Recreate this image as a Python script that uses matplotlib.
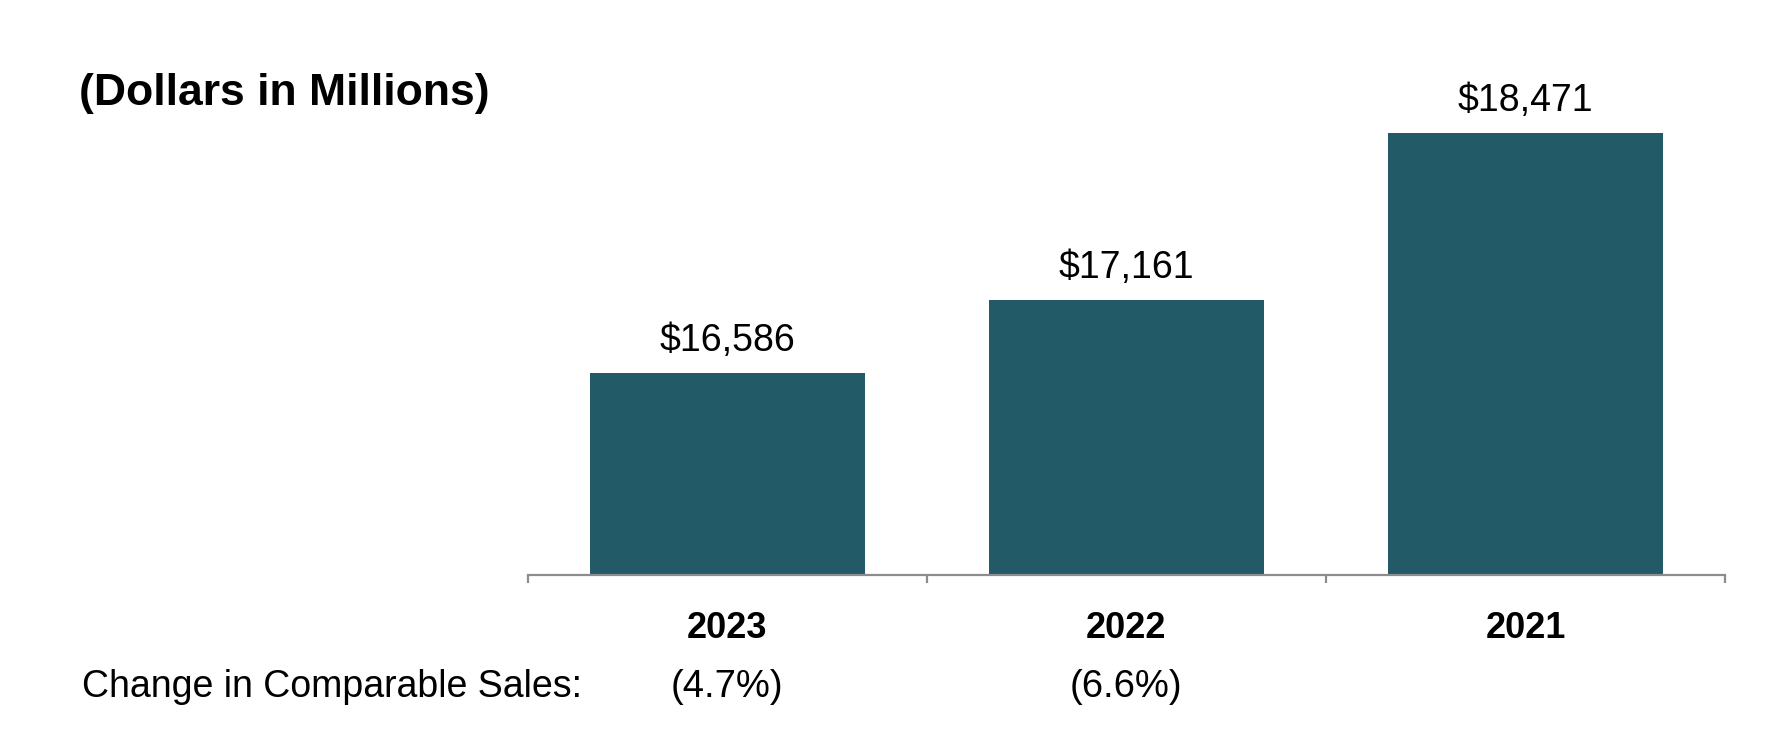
import matplotlib
matplotlib.use("Agg")
import matplotlib.pyplot as plt
import matplotlib.transforms as mtransforms

plt.rcParams['font.family'] = ['Liberation Sans', 'DejaVu Sans']

# data
years = ["2023", "2022", "2021"]
sales = [16586, 17161, 18471]
comp_change = ["(4.7%)", "(6.6%)", ""]

bar_color = "#235a68"
axis_color = "#8c8c8c"

fig = plt.figure(figsize=(17.88, 7.5), dpi=100)
ax = fig.add_axes([0.2951, 0.2333, 0.6697, 0.679])

x = list(range(len(years)))
ax.bar(x, sales, width=0.69, color=bar_color, zorder=2)

ax.set_xlim(-0.5, len(years) - 0.5)
ax.set_ylim(15000, 19000)

# value labels on top of bars
for xi, v in zip(x, sales):
    ax.annotate(f"${v:,}", (xi, v), xytext=(0, 10), textcoords="offset points",
                ha="center", va="bottom", fontsize=27)

# only the bottom axis line with ticks between categories
for side in ["top", "right", "left"]:
    ax.spines[side].set_visible(False)
ax.spines["bottom"].set_color(axis_color)
ax.spines["bottom"].set_linewidth(1.6)
ax.set_yticks([])
ax.set_xticks([i - 0.5 for i in range(len(years) + 1)])
ax.set_xticklabels([])
ax.tick_params(axis="x", direction="out", length=6, width=1.6, color=axis_color)

# year labels and comparable sales row
trans = mtransforms.blended_transform_factory(ax.transData, fig.transFigure)
for xi, yr, ch in zip(x, years, comp_change):
    ax.text(xi, 1 - 629 / 750, yr, transform=trans, ha="center", va="center",
            fontsize=26, fontweight="bold")
    if ch:
        ax.text(xi, 1 - 687 / 750, ch, transform=trans, ha="center", va="center",
                fontsize=27.5)

fig.text(82 / 1788, 1 - 687 / 750, "Change in Comparable Sales:", ha="left",
         va="center", fontsize=27)
fig.text(79 / 1788, 1 - 94 / 750, "(Dollars in Millions)", ha="left",
         va="center", fontsize=32, fontweight="bold")

fig.savefig("out.png", dpi=100)
